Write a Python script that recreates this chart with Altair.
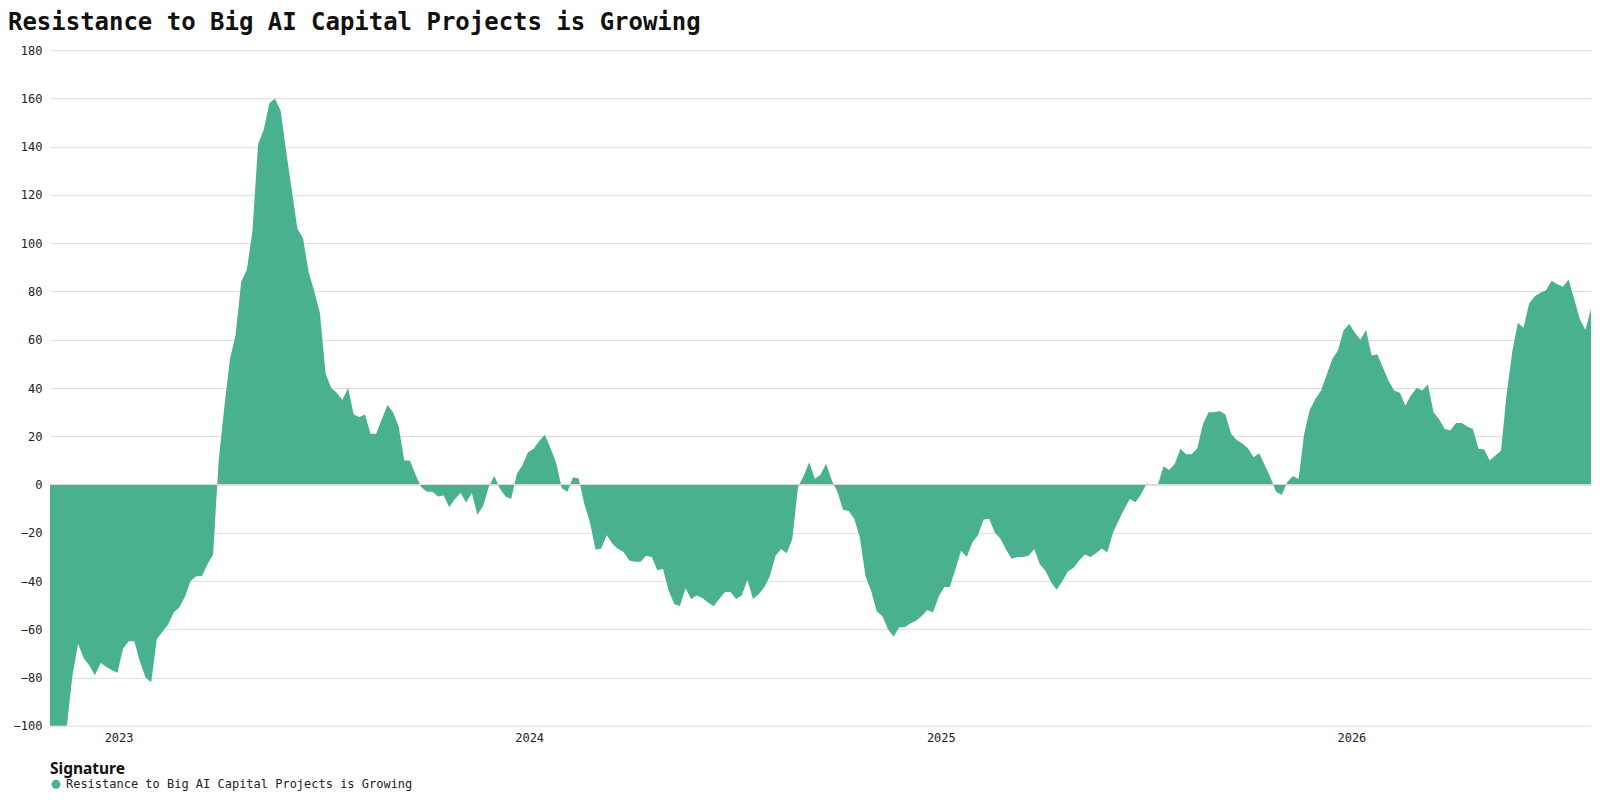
import altair as alt
import pandas as pd

TITLE = "Resistance to Big AI Capital Projects is Growing"
SERIES = "Resistance to Big AI Capital Projects is Growing"
START = "2022-11-01"
STEP_DAYS = 5
AREA_COLOR = "#4ab190"

# values read every 5 days from 2022-11-01
vals_2022_2023 = [
    -100, -100, -100, -100, -79, -66, -72, -75, -79, -74,
    -75.5, -77, -78, -68, -65, -65, -73.5, -80, -82, -64,
    -61, -58, -53, -51, -46.5, -40, -38, -38, -33, -29,
    10, 32, 52, 62, 84, 89, 105, 141, 147, 158,
    160, 155, 138, 122, 106, 102, 88, 80, 71, 46,
    40, 38, 35, 40, 29, 28, 29, 21, 21, 27,
    33, 30, 24, 10, 10, 4, -1, -3, -3,
]
vals_2023_2024 = [
    -5, -4.5, -9.4, -6, -3.5, -7.5, -3.5, -12.5, -9, -1,
    3.5, -1.8, -5, -6, 4.4, 8, 13.4, 14.8, 18, 20.6,
    15, 9, -1.5, -3, 3, 2.5, -8, -15.5, -27, -26.5,
    -21, -24.5, -26.7, -28, -31.5, -32, -32, -29.5, -30, -35.5,
    -35, -44, -49.5, -50.5, -43, -47.4, -46, -47, -48.9, -50.5,
    -47.5, -44.5, -44.5, -47.4, -46, -39.5, -47.4, -45.5, -42.6, -38,
    -29.5, -26.7, -28.5, -22.5, -1, 3.5, 9.2, 2.4, 4, 8.6,
    1.8, -3, -10.5,
]
vals_2024_2025 = [
    -11, -14.2, -22, -38, -44, -52.5, -54.5, -60, -63, -59.2,
    -59.2, -57.5, -56.5, -54.5, -52, -53, -46.5, -42.5, -42.5, -35,
    -27.5, -30, -24, -21, -14.5, -14.2, -20, -22.5, -27, -30.8,
    -30, -30, -29.5, -26.7, -33, -35.7, -40.5, -43.6, -40, -36,
    -34.5, -31.5, -29, -30, -28.5, -26.5, -28.2, -20, -15, -10.3,
    -6, -7.3, -4, 0.5, -0.3, 0, 7.6, 6, 8.6, 14.8,
    12.5, 12.5, 15, 25, 30, 30, 30.5, 29, 21, 18.5,
    17,
]
vals_2025_2026 = [
    15, 11.3, 13, 8, 3, -3, -4.3, 1, 3.5, 2.3,
    21, 31, 35.4, 39, 45.5, 52, 55.5, 63.8, 66.5, 63,
    60, 64, 53.5, 54, 48.5, 43, 39, 38, 32.7, 37,
    40, 39, 41.5, 30, 27, 23, 22.4, 25.5, 25.5, 24,
    23, 14.8, 14.5, 10, 12, 14, 37.6, 55, 67, 65,
    75, 78, 79.5, 80.5, 84.5, 83, 82, 85, 77, 68.6,
    64, 72.8,
]
Y_TICKS = [-100, -80, -60, -40, -20, 0, 20, 40, 60, 80, 100, 120, 140, 160, 180]

values = vals_2022_2023 + vals_2023_2024 + vals_2024_2025 + vals_2025_2026
dates = pd.date_range(START, periods=len(values), freq=f"{STEP_DAYS}D")
df = pd.DataFrame({"date": dates, "value": values, "series": SERIES})

MONO = "DejaVu Sans Mono"

area = alt.Chart(df).mark_area(interpolate="linear").encode(
    x=alt.X(
        "date:T",
        scale=alt.Scale(nice=False),
        axis=alt.Axis(
            format="%Y", tickCount="year", grid=False, ticks=False, domain=False,
            title=None, labelFont=MONO, labelFontSize=12, labelColor="#222222",
            labelPadding=7,
        ),
    ),
    y=alt.Y(
        "value:Q",
        scale=alt.Scale(domain=[-100, 180], nice=False, clamp=True),
        axis=alt.Axis(
            values=Y_TICKS, grid=True, gridColor="#dddddd", ticks=False, domain=False,
            title=None, labelFont=MONO, labelFontSize=12, labelColor="#222222",
            labelPadding=8, minExtent=42,
        ),
    ),
    color=alt.Color(
        "series:N",
        scale=alt.Scale(range=[AREA_COLOR]),
        legend=alt.Legend(
            title="Signature", orient="none", legendX=0, legendY=712,
            direction="vertical", symbolType="circle", symbolSize=78,
            titleFont="Noto Sans", titleFontSize=15.5, titleFontWeight="bold",
            titleColor="#111111", labelFont=MONO, labelFontSize=12,
            labelColor="#222222", symbolOpacity=1, titlePadding=1,
            labelLimit=0, padding=0, labelOffset=4,
        ),
    ),
)

zero = alt.Chart(pd.DataFrame({"y": [0]})).mark_rule(
    color="#dddddd", strokeWidth=1.2, opacity=0.8
).encode(y="y:Q")

chart = (
    alt.layer(area, zero)
    .properties(
        width=1542,
        height=676,
        padding={"left": 0, "top": 3, "right": 0, "bottom": 0},
        title=alt.Title(
            TITLE, anchor="start", frame="bounds", font=MONO, fontSize=24,
            fontWeight="bold", color="#111111", offset=9,
        ),
    )
    .configure_view(stroke=None)
)

chart.save("out.html", embed_options={"renderer": "svg", "actions": False})
